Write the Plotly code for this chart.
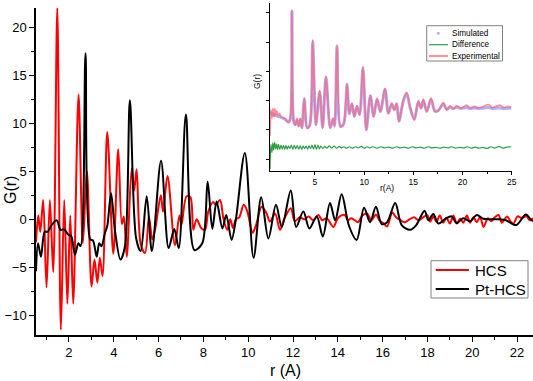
import plotly.graph_objects as go

# ---------------- main data ----------------
hcs_r = [0.53, 0.63, 0.72, 0.85, 1.00, 1.15, 1.30, 1.48, 1.64, 1.79, 1.93, 2.06, 2.19, 2.43,
         2.62, 2.80, 3.01, 3.14, 3.27, 3.38, 3.50, 3.71, 3.98, 4.20, 4.36, 4.45, 4.58, 4.80,
         4.91, 5.02, 5.21, 5.40, 5.57, 5.72, 5.85, 6.10, 6.20, 6.40, 6.73, 6.93, 7.02, 7.25,
         7.42, 7.55, 7.70, 7.90, 8.07, 8.22, 8.44, 8.55, 8.74, 8.90, 9.07, 9.20, 9.32, 9.45,
         9.60, 9.80, 9.95, 10.20, 10.35, 10.60, 10.82, 10.97, 11.20, 11.42, 11.60, 11.90,
         12.08, 12.30, 12.50, 12.70, 12.90, 13.13, 13.30, 13.50, 13.80, 14.00, 14.30, 14.45,
         14.60, 14.75, 14.90, 15.10, 15.30, 15.50, 15.70, 15.85, 16.03, 16.20, 16.43, 16.60,
         16.80, 17.00, 17.20, 17.40, 17.60, 17.80, 18.00, 18.12, 18.26, 18.40, 18.55, 18.70,
         18.85, 19.00, 19.16, 19.31, 19.46, 19.60, 19.76, 19.90, 20.05, 20.20, 20.35, 20.50,
         20.70, 20.85, 21.00, 21.17, 21.32, 21.55, 21.70, 21.84, 22.02, 22.20, 22.42, 22.57,
         22.71]
hcs_g = [-2.4, 0.4, -1.3, 2.0, -7.1, 2.0, -5.5, 22.0, -11.5, 2.0, -8.8, 0.4, -8.8, 13.0,
         -2.5, 5.0, -7.0, -4.2, -6.6, -4.0, -5.9, 9.1, -3.6, 7.3, -0.5, 0.3, -3.9, 5.3,
         3.0, 5.2, -2.7, -3.5, 0.3, -2.1, -1.0, 2.5, 0.8, 4.5, -2.7, 0.4, -0.6, 2.4,
         2.3, -1.1, 0.0, -0.9, -1.1, 0.8, 1.8, 1.5, 2.0, 0.0, -1.1, 0.0, -0.9, 0.0,
         0.2, 1.5, 0.9, -1.4, -0.6, 1.3, 0.6, -0.25, 0.6, -1.1, 0.0, 1.15,
         -0.2, 0.2, 0.0, 0.3, -0.1, 0.45, -0.1, 0.1, -0.8, 0.1, 0.45, -0.1,
         0.1, -0.1, -0.3, 0.4, 0.6, -0.1, 0.5, -0.1, -0.4, -0.75, 0.7, 0.2,
         -0.1, -0.3, 0.0, 0.2, -0.1, 0.2, 0.4, -0.25, 0.3, -0.25, 0.4, -0.35,
         0.15, -0.45, 0.4, -0.45, 0.05, -0.35, 0.4, -0.35, 0.2, -0.3, 0.25, -0.8,
         0.1, -0.2, 0.2, 0.45, -0.35, 0.3, -0.2, -0.45, 0.3, 0.15, 0.3, -0.1,
         0.1]

pt_r = [0.53, 0.62, 0.75, 0.92, 1.05, 1.23, 1.45, 1.63, 1.79, 1.97, 2.10, 2.27, 2.42, 2.52,
        2.74, 2.95, 3.07, 3.24, 3.35, 3.45, 3.61, 3.71, 3.88, 4.05, 4.30, 4.50, 4.72, 5.00,
        5.20, 5.47, 5.70, 6.11, 6.45, 6.70, 6.90, 7.22, 7.60, 7.95, 8.19, 8.40, 8.59, 8.85,
        9.02, 9.26, 9.45, 9.85, 10.24, 10.58, 10.90, 11.24, 11.50, 11.90, 12.14, 12.46,
        12.73, 13.06, 13.33, 13.65, 13.88, 14.17, 14.50, 14.84, 15.17, 15.44, 15.70, 15.96,
        16.20, 16.56, 16.85, 17.22, 17.50, 17.87, 18.04, 18.26, 18.49, 18.80, 19.08, 19.30,
        19.60, 19.90, 20.20, 20.50, 20.80, 21.20, 21.50, 21.96, 22.39, 22.60, 22.71]
pt_g = [-5.4, -2.5, -3.9, -1.3, -1.3, -0.6, -0.1, -1.1, -1.05, -1.6, -1.75, -3.7, -2.5, -2.8,
        17.3, -2.1, -2.2, -3.9, -2.5, -2.8, -1.4, -0.7, 2.7, -1.1, -4.2, -2.8, 12.4, -2.0,
        -3.3, 2.4, -3.3, 6.1, -3.0, -1.0, -3.0, 10.9, -3.2, -2.5, 3.9, -1.0, 1.85, -0.95,
        0.45, -2.15, 0.0, 6.9, -4.0, 2.3, -2.0, 1.5, -0.8, 3.0, -0.8, 0.8,
        -0.95, 0.3, -1.8, 1.7, -0.1, 2.6, -0.7, -2.15, 1.2, -0.3, 1.3, -0.5,
        -0.3, 1.7, -0.6, -1.1, -0.6, 0.9, -0.1, 0.55, -0.45, 0.05, 0.3, -0.4,
        0.1, -0.2, 0.45, 0.05, 0.0, 0.0, -0.1, -0.6, 0.5, 0.0, -0.2]

x_ticks = [2, 4, 6, 8, 10, 12, 14, 16, 18, 20, 22]
y_ticks = [-10, -5, 0, 5, 10, 15, 20]

# ---------------- inset data ----------------
exp_r = [0.43, 0.52, 0.62, 0.73, 0.82, 0.92, 1.02, 1.12, 1.25, 1.40, 1.55, 1.75, 1.95, 2.15,
         2.32, 2.50, 2.66, 2.84, 3.00, 3.17, 3.34, 3.51, 3.68, 3.92, 4.20, 4.46, 4.77, 5.10,
         5.48, 5.78, 6.12, 6.55, 6.83, 7.00, 7.24, 7.60, 7.92, 8.26, 8.49, 8.76, 9.00, 9.27,
         9.54, 9.88, 10.22, 10.63, 10.97, 11.31, 11.65, 12.12, 12.46, 12.80, 13.07, 13.31,
         13.54, 13.98, 14.32, 14.66, 15.10, 15.51, 15.78, 16.02, 16.36, 16.80, 17.20, 17.54,
         18.05, 18.39, 18.73, 19.07, 19.41, 19.80, 20.20, 20.42, 20.80, 21.20, 21.60, 22.00,
         22.63, 23.00, 23.40, 23.81, 24.20, 24.60, 24.95]
exp_v = [0.80, 1.68, 1.40, 1.72, 1.45, 1.72, 1.50, 1.65, 1.50, 1.55, 1.45, 1.42, 1.38, 1.30,
         1.25, 1.40, 5.10, 1.30, 1.16, 1.39, 1.11, 1.39, 1.05, 2.08, 1.05, 1.13, 4.08, 1.16,
         2.34, 1.05, 2.84, 1.05, 1.40, 1.11, 3.90, 1.10, 1.22, 2.59, 1.56, 1.91, 1.45, 1.82,
         1.51, 3.16, 0.99, 2.19, 1.45, 2.08, 1.62, 2.42, 1.56, 1.91, 1.68, 1.91,
         1.28, 2.02, 2.27, 1.79, 1.34, 1.99, 1.74, 2.04, 1.62, 2.08, 1.62, 1.65,
         1.93, 1.68, 1.82, 1.72, 1.82, 1.74, 1.80, 1.84, 1.74, 1.80, 1.75, 1.78,
         1.86, 1.76, 1.80, 1.84, 1.76, 1.80, 1.78]
sim_v = [1.55, 1.58, 1.52, 1.56, 1.50, 1.53, 1.48, 1.50, 1.45, 1.46, 1.42, 1.40, 1.36, 1.30,
         1.27, 1.38, 5.05, 1.28, 1.18, 1.33, 1.14, 1.35, 1.08, 2.05, 1.08, 1.15, 4.02, 1.18,
         2.30, 1.08, 2.80, 1.08, 1.35, 1.14, 3.86, 1.12, 1.20, 2.55, 1.55, 1.88, 1.46, 1.80,
         1.52, 3.12, 1.00, 2.16, 1.46, 2.04, 1.62, 2.38, 1.57, 1.88, 1.69, 1.88,
         1.30, 1.98, 2.24, 1.78, 1.36, 1.96, 1.74, 2.00, 1.63, 2.04, 1.64, 1.66,
         1.88, 1.70, 1.78, 1.72, 1.78, 1.73, 1.75, 1.76, 1.73, 1.75, 1.73, 1.74,
         1.76, 1.73, 1.74, 1.75, 1.73, 1.74, 1.74]

dif_r = [0.43, 0.52, 0.62, 0.72, 0.80, 0.90, 1.00, 1.10, 1.20, 1.30, 1.42, 1.55, 1.68, 1.80,
         1.93, 2.05, 2.18, 2.30, 2.45, 2.60, 2.75, 2.90, 3.05, 3.20, 3.35, 3.50, 3.65, 3.80,
         3.95, 4.10, 4.25, 4.40, 4.55, 4.70, 4.85, 5.00, 5.15, 5.30, 5.45, 5.60, 5.80, 6.00,
         6.20, 6.45, 6.70, 6.95, 7.20, 7.45, 7.70, 7.95, 8.20, 8.50, 8.80, 9.10, 9.40, 9.70,
         10.00, 10.30, 10.60, 10.90, 11.30, 11.70, 12.10, 12.50, 12.90, 13.30, 13.70, 14.10,
         14.50, 14.90, 15.30, 15.70, 16.10, 16.50, 16.90, 17.30, 17.70, 18.10, 18.50, 18.90,
         19.30, 19.70, 20.10, 20.50, 20.90, 21.30, 21.70, 22.10, 22.50, 22.90, 23.30, 23.70,
         24.10, 24.50, 24.95]
dif_v = [-0.35, 0.50, 0.22, 0.55, 0.30, 0.57, 0.35, 0.52, 0.32, 0.50, 0.33, 0.48, 0.34, 0.47,
         0.33, 0.46, 0.34, 0.45, 0.36, 0.48, 0.33, 0.47, 0.35, 0.46, 0.34, 0.45, 0.33, 0.44,
         0.36, 0.44, 0.34, 0.45, 0.36, 0.48, 0.34, 0.49, 0.33, 0.48, 0.35, 0.44, 0.36, 0.43,
         0.37, 0.45, 0.37, 0.44, 0.37, 0.43, 0.38, 0.42, 0.37, 0.42, 0.37, 0.42, 0.38, 0.43,
         0.37, 0.42, 0.38, 0.42, 0.37, 0.42, 0.38, 0.41, 0.37, 0.42, 0.38, 0.41,
         0.37, 0.42, 0.38, 0.41, 0.37, 0.42, 0.38, 0.40, 0.37, 0.41, 0.38, 0.42,
         0.37, 0.40, 0.38, 0.42, 0.37, 0.41, 0.37, 0.40, 0.36, 0.42, 0.37, 0.43,
         0.37, 0.41, 0.42]

inset_x_ticks = [5, 10, 15, 20, 25]

FONT = "Liberation Sans, Arial, sans-serif"
RED = "#ff0000"
EXP_COL = "rgba(255,100,110,0.7)"
SIM_COL = "rgba(110,110,255,0.55)"
DIF_COL = "#2f9e44"

fig = go.Figure()

fig.add_trace(go.Scatter(x=hcs_r, y=hcs_g, mode="lines", name="HCS", showlegend=False,
                         line=dict(color=RED, width=2, shape="spline", smoothing=0.9),
                         xaxis="x", yaxis="y"))
fig.add_trace(go.Scatter(x=pt_r, y=pt_g, mode="lines", name="Pt-HCS", showlegend=False,
                         line=dict(color="#000000", width=2, shape="spline", smoothing=0.9),
                         xaxis="x", yaxis="y"))

# inset
fig.add_trace(go.Scatter(x=exp_r, y=sim_v, mode="lines", name="Simulated", showlegend=False,
                         line=dict(color=SIM_COL, width=3, shape="spline", smoothing=0.9),
                         xaxis="x2", yaxis="y2"))
fig.add_trace(go.Scatter(x=dif_r, y=dif_v, mode="lines", name="Difference", showlegend=False,
                         line=dict(color=DIF_COL, width=1.2, shape="spline", smoothing=0.8),
                         xaxis="x2", yaxis="y2"))
fig.add_trace(go.Scatter(x=exp_r, y=exp_v, mode="lines", name="Experimental", showlegend=False,
                         line=dict(color=EXP_COL, width=1.8, shape="spline", smoothing=0.9),
                         xaxis="x2", yaxis="y2"))

L, R, T, B, W, H = 36, 0, 2, 46, 533, 381
PW, PH = W - L - R, H - T - B


def px2x(px):
    return (px - L) / PW


def py2y(py):
    return (H - B - py) / PH


axis_common = dict(showgrid=False, zeroline=False, showline=True, linecolor="black",
                   ticks="outside", tickcolor="black", mirror=False, automargin=False)

fig.update_layout(
    width=W, height=H,
    margin=dict(l=L, r=R, t=T, b=B, autoexpand=False),
    paper_bgcolor="white", plot_bgcolor="rgba(0,0,0,0)",
    font=dict(family=FONT, color="black"),
    showlegend=False,
    xaxis=dict(**axis_common, domain=[0, 1], range=[0.53, 22.71], linewidth=1.5,
               tickvals=x_ticks, ticklen=5, tickwidth=1.3, tickfont=dict(size=13),
               minor=dict(dtick=1, tick0=0, ticks="outside", ticklen=3, tickcolor="black",
                          tickwidth=1.2),
               anchor="y"),
    yaxis=dict(**axis_common, domain=[0, py2y(8)], range=[-12.05, 22.0], linewidth=1.5,
               tickvals=y_ticks, ticklen=5, tickwidth=1.3, tickfont=dict(size=13),
               minor=dict(dtick=2.5, tick0=0, ticks="outside", ticklen=3, tickcolor="black",
                          tickwidth=1.2),
               anchor="x"),
    xaxis2=dict(**axis_common, domain=[px2x(270), px2x(511.7)], range=[0.43, 25],
                linewidth=1, tickvals=inset_x_ticks, ticklen=3, tickwidth=1,
                tickfont=dict(size=8.5), anchor="y2",
                minor=dict(dtick=2.5, tick0=0, ticks="outside", ticklen=2, tickcolor="black")),
    yaxis2=dict(**axis_common, domain=[py2y(170.7), py2y(3)], range=[-0.40, 5.34],
                linewidth=1, dtick=1, tick0=0, ticklen=3, tickwidth=1,
                showticklabels=False, anchor="x2"),
)


def label(text, px, py, size, angle=0, xanchor="center"):
    return dict(text=text, x=px2x(px), y=py2y(py), xref="paper", yref="paper",
                showarrow=False, textangle=angle, xanchor=xanchor, yanchor="middle",
                font=dict(size=size, family=FONT, color="black"))


annotations = [
    label("G(r)", 11, 190, 16, -90),
    label("r (A)", 285, 370, 16),
    label("G(r)", 257, 82, 8.5, -90),
    label("r(A)", 387, 188, 8.5),
]
# main key
main_key = [("HCS", RED, 270.5), ("Pt-HCS", "#000000", 289.5)]
for name, col, py in main_key:
    annotations.append(label(name, 473, py, 15, xanchor="left"))
# inset key
inset_key = [("Simulated", 33.3), ("Difference", 44.7), ("Experimental", 56.0)]
for name, py in inset_key:
    annotations.append(label(name, 450, py, 8.2, xanchor="left"))
fig.update_layout(annotations=annotations)


def hline(px0, px1, py, col, w):
    return dict(type="line", xref="paper", yref="paper", x0=px2x(px0), x1=px2x(px1),
                y0=py2y(py), y1=py2y(py), line=dict(color=col, width=w), layer="above")


shapes = [
    dict(type="rect", xref="paper", yref="paper", x0=px2x(431), x1=px2x(528),
         y0=py2y(298), y1=py2y(260.7), line=dict(color="#808080", width=1),
         fillcolor="white", layer="above"),
    hline(435.7, 469, 270, RED, 2),
    hline(435.7, 469, 289, "#000000", 2),
    dict(type="rect", xref="paper", yref="paper", x0=px2x(426.7), x1=px2x(502.5),
         y0=py2y(61), y1=py2y(25.7), line=dict(color="#808080", width=1),
         fillcolor="white", layer="above"),
    dict(type="circle", xref="paper", yref="paper", x0=px2x(436.8), x1=px2x(439.8),
         y0=py2y(34.8), y1=py2y(31.8), line=dict(color=SIM_COL, width=0),
         fillcolor=SIM_COL, layer="above"),
    hline(429, 448, 44.7, DIF_COL, 1.2),
    hline(429, 448, 56, EXP_COL, 2),
]
fig.update_layout(shapes=shapes)

fig.write_html("out.html", config={"displayModeBar": False},
               post_script="document.body.style.margin='0px';")
